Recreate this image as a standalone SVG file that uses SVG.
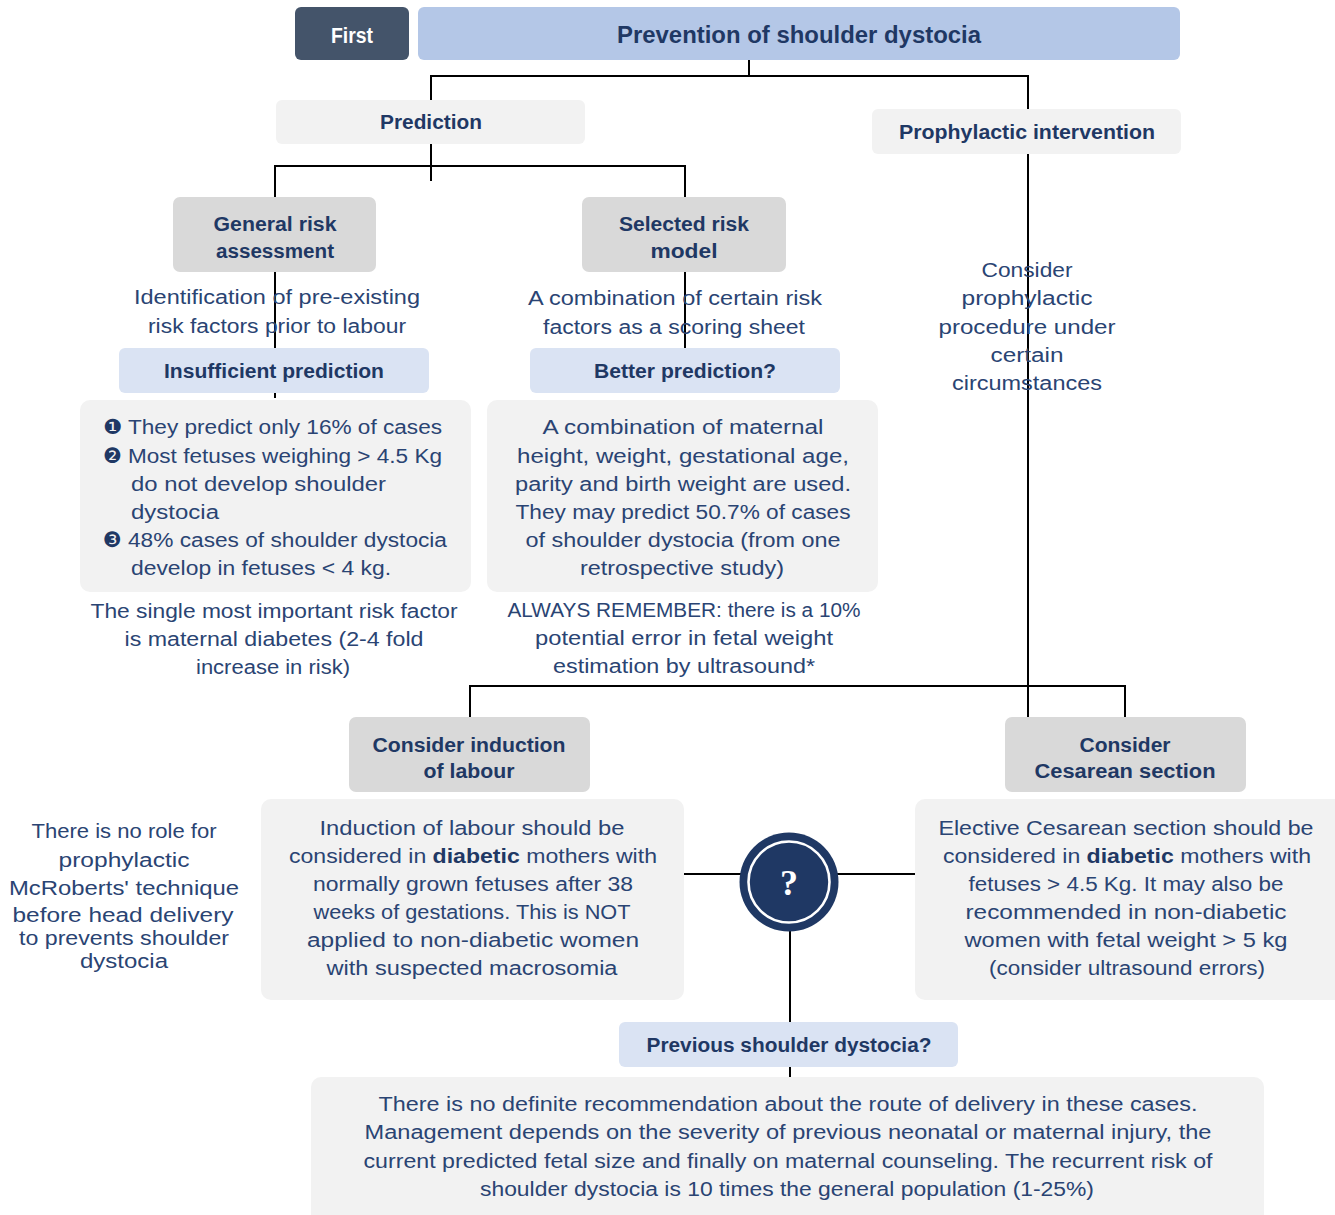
<svg xmlns="http://www.w3.org/2000/svg" width="1335" height="1215" viewBox="0 0 1335 1215">
  <style>
    .hd { font-family: "Liberation Sans", Arial, sans-serif; font-weight: bold; fill: #1f3864; text-anchor: middle; }
    .tx { font-family: "Liberation Sans", Arial, sans-serif; fill: #2a4473; text-anchor: middle; font-size: 20px; }
    .txl { font-family: "Liberation Sans", Arial, sans-serif; fill: #2a4473; font-size: 20px; }
    .num { font-family: "DejaVu Sans", sans-serif; fill: #1f3864; font-size: 21px; }
    .b { font-weight: bold; fill: #1f3864; }
    .lite { fill: #f2f2f2; }
    .mid { fill: #d9d9d9; }
    .blue { fill: #dae3f3; }
    .conn line { stroke: #000; stroke-width: 2; }
  </style>

  <!-- connectors -->
  <g id="connectors" class="conn">
    <line x1="749" y1="60" x2="749" y2="76"/>
    <line x1="430" y1="76" x2="1029" y2="76"/>
    <line x1="431" y1="75" x2="431" y2="100"/>
    <line x1="1028" y1="75" x2="1028" y2="109"/>
    <line x1="431" y1="144" x2="431" y2="181"/>
    <line x1="274" y1="166" x2="686" y2="166"/>
    <line x1="275" y1="165" x2="275" y2="197"/>
    <line x1="685" y1="165" x2="685" y2="197"/>
    <line x1="275" y1="272" x2="275" y2="398"/>
    <line x1="685" y1="272" x2="685" y2="348"/>
    <line x1="1028" y1="154" x2="1028" y2="717"/>
    <line x1="469" y1="686" x2="1126" y2="686"/>
    <line x1="470" y1="685" x2="470" y2="717"/>
    <line x1="1125" y1="685" x2="1125" y2="717"/>
    <line x1="684" y1="874" x2="915" y2="874"/>
    <line x1="790" y1="900" x2="790" y2="1022"/>
    <line x1="790" y1="1067" x2="790" y2="1077"/>
  </g>

  <!-- header -->
  <g id="first">
    <rect x="295" y="7" width="114" height="53" rx="6" fill="#44546a"/>
    <text x="352" y="43" class="hd" font-size="22" style="fill:#fff" textLength="42" lengthAdjust="spacingAndGlyphs">First</text>
  </g>
  <g id="title">
    <rect x="418" y="7" width="762" height="53" rx="6" fill="#b4c7e7"/>
    <text x="799" y="43" class="hd" font-size="23" textLength="364" lengthAdjust="spacingAndGlyphs">Prevention of shoulder dystocia</text>
  </g>

  <g id="prediction">
    <rect x="276" y="100" width="309" height="44" rx="6" class="lite"/>
    <text x="431" y="129" class="hd" font-size="21" textLength="102" lengthAdjust="spacingAndGlyphs">Prediction</text>
  </g>
  <g id="prophylactic">
    <rect x="872" y="109" width="309" height="45" rx="6" class="lite"/>
    <text x="1027" y="139" class="hd" font-size="21" textLength="256" lengthAdjust="spacingAndGlyphs">Prophylactic intervention</text>
  </g>

  <g id="general-risk">
    <rect x="173" y="197" width="203" height="75" rx="7" class="mid"/>
    <text x="275" y="231" class="hd" font-size="20" textLength="123" lengthAdjust="spacingAndGlyphs">General risk</text>
    <text x="275" y="258" class="hd" font-size="20" textLength="118" lengthAdjust="spacingAndGlyphs">assessment</text>
  </g>
  <g id="selected-risk">
    <rect x="582" y="197" width="204" height="75" rx="7" class="mid"/>
    <text x="684" y="231" class="hd" font-size="20" textLength="130" lengthAdjust="spacingAndGlyphs">Selected risk</text>
    <text x="684" y="258" class="hd" font-size="20" textLength="67" lengthAdjust="spacingAndGlyphs">model</text>
  </g>

  <g id="general-note">
    <text x="277" y="304" class="tx" textLength="286" lengthAdjust="spacingAndGlyphs">Identification of pre-existing</text>
    <text x="277" y="333" class="tx" textLength="258" lengthAdjust="spacingAndGlyphs">risk factors prior to labour</text>
  </g>
  <g id="selected-note">
    <text x="675" y="305" class="tx" textLength="294" lengthAdjust="spacingAndGlyphs">A combination of certain risk</text>
    <text x="674" y="334" class="tx" textLength="262" lengthAdjust="spacingAndGlyphs">factors as a scoring sheet</text>
  </g>

  <g id="insufficient">
    <rect x="119" y="348" width="310" height="45" rx="6" class="blue"/>
    <text x="274" y="378" class="hd" font-size="20" textLength="220" lengthAdjust="spacingAndGlyphs">Insufficient prediction</text>
  </g>
  <g id="better">
    <rect x="530" y="348" width="310" height="45" rx="6" class="blue"/>
    <text x="685" y="378" class="hd" font-size="20" textLength="182" lengthAdjust="spacingAndGlyphs">Better prediction?</text>
  </g>

  <g id="insufficient-detail">
    <rect x="80" y="400" width="391" height="192" rx="10" class="lite"/>
    <text x="103" y="434" class="num">❶</text>
    <text x="128" y="434" class="txl" textLength="314" lengthAdjust="spacingAndGlyphs">They predict only 16% of cases</text>
    <text x="103" y="463" class="num">❷</text>
    <text x="128" y="463" class="txl" textLength="314" lengthAdjust="spacingAndGlyphs">Most fetuses weighing &gt; 4.5 Kg</text>
    <text x="131" y="491" class="txl" textLength="255" lengthAdjust="spacingAndGlyphs">do not develop shoulder</text>
    <text x="131" y="519" class="txl" textLength="88" lengthAdjust="spacingAndGlyphs">dystocia</text>
    <text x="103" y="547" class="num">❸</text>
    <text x="128" y="547" class="txl" textLength="319" lengthAdjust="spacingAndGlyphs">48% cases of shoulder dystocia</text>
    <text x="131" y="575" class="txl" textLength="260" lengthAdjust="spacingAndGlyphs">develop in fetuses &lt; 4 kg.</text>
  </g>
  <g id="better-detail">
    <rect x="487" y="400" width="391" height="192" rx="10" class="lite"/>
    <text x="683" y="434" class="tx" textLength="281" lengthAdjust="spacingAndGlyphs">A combination of maternal</text>
    <text x="683" y="463" class="tx" textLength="332" lengthAdjust="spacingAndGlyphs">height, weight, gestational age,</text>
    <text x="683" y="491" class="tx" textLength="336" lengthAdjust="spacingAndGlyphs">parity and birth weight are used.</text>
    <text x="683" y="519" class="tx" textLength="335" lengthAdjust="spacingAndGlyphs">They may predict 50.7% of cases</text>
    <text x="683" y="547" class="tx" textLength="315" lengthAdjust="spacingAndGlyphs">of shoulder dystocia (from one</text>
    <text x="682" y="575" class="tx" textLength="204" lengthAdjust="spacingAndGlyphs">retrospective study)</text>
  </g>

  <g id="diabetes-note">
    <text x="274" y="618" class="tx" textLength="367" lengthAdjust="spacingAndGlyphs">The single most important risk factor</text>
    <text x="274" y="646" class="tx" textLength="299" lengthAdjust="spacingAndGlyphs">is maternal diabetes (2-4 fold</text>
    <text x="273" y="674" class="tx" textLength="154" lengthAdjust="spacingAndGlyphs">increase in risk)</text>
  </g>
  <g id="ultrasound-note">
    <text x="684" y="617" class="tx" textLength="353" lengthAdjust="spacingAndGlyphs">ALWAYS REMEMBER: there is a 10%</text>
    <text x="684" y="645" class="tx" textLength="298" lengthAdjust="spacingAndGlyphs">potential error in fetal weight</text>
    <text x="684" y="673" class="tx" textLength="262" lengthAdjust="spacingAndGlyphs">estimation by ultrasound*</text>
  </g>

  <g id="prophylactic-note">
    <text x="1027" y="277" class="tx" textLength="91" lengthAdjust="spacingAndGlyphs">Consider</text>
    <text x="1027" y="305" class="tx" textLength="131" lengthAdjust="spacingAndGlyphs">prophylactic</text>
    <text x="1027" y="334" class="tx" textLength="177" lengthAdjust="spacingAndGlyphs">procedure under</text>
    <text x="1027" y="362" class="tx" textLength="73" lengthAdjust="spacingAndGlyphs">certain</text>
    <text x="1027" y="390" class="tx" textLength="150" lengthAdjust="spacingAndGlyphs">circumstances</text>
  </g>

  <g id="induction">
    <rect x="349" y="717" width="241" height="75" rx="7" class="mid"/>
    <text x="469" y="752" class="hd" font-size="20" textLength="193" lengthAdjust="spacingAndGlyphs">Consider induction</text>
    <text x="469" y="778" class="hd" font-size="20" textLength="91" lengthAdjust="spacingAndGlyphs">of labour</text>
  </g>
  <g id="cesarean">
    <rect x="1005" y="717" width="241" height="75" rx="7" class="mid"/>
    <text x="1125" y="752" class="hd" font-size="20" textLength="91" lengthAdjust="spacingAndGlyphs">Consider</text>
    <text x="1125" y="778" class="hd" font-size="20" textLength="181" lengthAdjust="spacingAndGlyphs">Cesarean section</text>
  </g>

  <g id="mcroberts-note">
    <text x="124" y="838" class="tx" textLength="185" lengthAdjust="spacingAndGlyphs">There is no role for</text>
    <text x="124" y="867" class="tx" textLength="131" lengthAdjust="spacingAndGlyphs">prophylactic</text>
    <text x="124" y="895" class="tx" textLength="230" lengthAdjust="spacingAndGlyphs">McRoberts' technique</text>
    <text x="123" y="922" class="tx" textLength="221" lengthAdjust="spacingAndGlyphs">before head delivery</text>
    <text x="124" y="945" class="tx" textLength="210" lengthAdjust="spacingAndGlyphs">to prevents shoulder</text>
    <text x="124" y="968" class="tx" textLength="88" lengthAdjust="spacingAndGlyphs">dystocia</text>
  </g>

  <g id="induction-detail">
    <rect x="261" y="799" width="423" height="201" rx="10" class="lite"/>
    <text x="472" y="835" class="tx" textLength="305" lengthAdjust="spacingAndGlyphs">Induction of labour should be</text>
    <text x="473" y="863" class="tx" textLength="368" lengthAdjust="spacingAndGlyphs">considered in <tspan class="b">diabetic</tspan> mothers with</text>
    <text x="473" y="891" class="tx" textLength="320" lengthAdjust="spacingAndGlyphs">normally grown fetuses after 38</text>
    <text x="472" y="919" class="tx" textLength="317" lengthAdjust="spacingAndGlyphs">weeks of gestations. This is NOT</text>
    <text x="473" y="947" class="tx" textLength="332" lengthAdjust="spacingAndGlyphs">applied to non-diabetic women</text>
    <text x="472" y="975" class="tx" textLength="291" lengthAdjust="spacingAndGlyphs">with suspected macrosomia</text>
  </g>
  <g id="cesarean-detail">
    <rect x="915" y="799" width="430" height="201" rx="10" class="lite"/>
    <text x="1126" y="835" class="tx" textLength="375" lengthAdjust="spacingAndGlyphs">Elective Cesarean section should be</text>
    <text x="1127" y="863" class="tx" textLength="368" lengthAdjust="spacingAndGlyphs">considered in <tspan class="b">diabetic</tspan> mothers with</text>
    <text x="1126" y="891" class="tx" textLength="315" lengthAdjust="spacingAndGlyphs">fetuses &gt; 4.5 Kg. It may also be</text>
    <text x="1126" y="919" class="tx" textLength="321" lengthAdjust="spacingAndGlyphs">recommended in non-diabetic</text>
    <text x="1126" y="947" class="tx" textLength="323" lengthAdjust="spacingAndGlyphs">women with fetal weight &gt; 5 kg</text>
    <text x="1127" y="975" class="tx" textLength="276" lengthAdjust="spacingAndGlyphs">(consider ultrasound errors)</text>
  </g>

  <g id="question">
    <circle cx="789" cy="882" r="49.5" fill="#1f3864"/>
    <circle cx="789" cy="882" r="40.5" fill="#1f3864" stroke="#fff" stroke-width="2.6"/>
    <text x="789" y="895" font-family="Liberation Serif, serif" font-weight="bold" font-size="36" fill="#fff" text-anchor="middle">?</text>
  </g>

  <g id="previous">
    <rect x="619" y="1022" width="339" height="45" rx="6" class="blue"/>
    <text x="789" y="1052" class="hd" font-size="20" textLength="285" lengthAdjust="spacingAndGlyphs">Previous shoulder dystocia?</text>
  </g>
  <g id="previous-detail">
    <rect x="311" y="1077" width="953" height="160" rx="10" class="lite"/>
    <text x="788" y="1111" class="tx" textLength="819" lengthAdjust="spacingAndGlyphs">There is no definite recommendation about the route of delivery in these cases.</text>
    <text x="788" y="1139" class="tx" textLength="847" lengthAdjust="spacingAndGlyphs">Management depends on the severity of previous neonatal or maternal injury, the</text>
    <text x="788" y="1168" class="tx" textLength="849" lengthAdjust="spacingAndGlyphs">current predicted fetal size and finally on maternal counseling. The recurrent risk of</text>
    <text x="787" y="1196" class="tx" textLength="614" lengthAdjust="spacingAndGlyphs">shoulder dystocia is 10 times the general population (1-25%)</text>
  </g>
</svg>
